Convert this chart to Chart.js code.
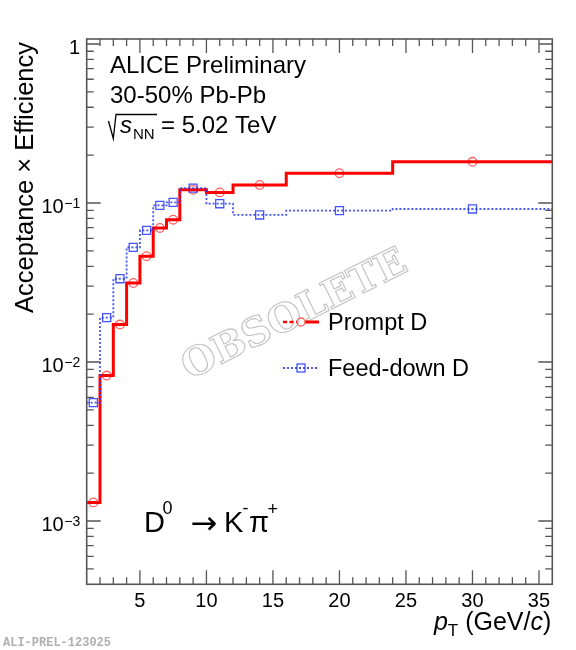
<!DOCTYPE html>
<html><head><meta charset="utf-8">
<script src="https://cdn.jsdelivr.net/npm/chart.js@4"></script>
<style>html,body{margin:0;padding:0;background:#fff}#wrap{width:576px;height:650px;position:relative}</style>
</head><body><div id="wrap"><canvas id="c"></canvas></div>
<script>
// ---- data ----
const binEdges = [1, 2, 3, 4, 5, 6, 7, 8, 10, 12, 16, 24, 36];
const promptEff = [0.00131, 0.00822, 0.0172, 0.0314, 0.0463, 0.0697, 0.0785, 0.121, 0.1166, 0.130, 0.154, 0.1816];
const feeddownEff = [0.00555, 0.0190, 0.0334, 0.0526, 0.0673, 0.0966, 0.1009, 0.124, 0.099, 0.0841, 0.0895, 0.0917];
const xTickValues = [5, 10, 15, 20, 25, 30, 35];
const xTickLabels = ['5', '10', '15', '20', '25', '30', '35'];
const yTickValues = [0.001, 0.01, 0.1, 1];
const yTickBases = ['10', '10', '10', '1'];
const yTickExps = ['\u22123', '\u22122', '\u22121', ''];
const seriesNames = ['Prompt D', 'Feed-down D'];

const X_MIN = 1, X_MAX = 36, Y_MIN = 4e-4, Y_MAX = 1.075;
const RED = '#ff0000';
const RED_MK = 'rgba(255,70,70,0.85)';
const BLUE = 'rgba(35,55,255,0.85)';

function stepPoints(vals) {
  return binEdges.map((e, i) => ({ x: e, y: vals[Math.min(i, vals.length - 1)] }));
}
function centerPoints(vals) {
  return vals.map((v, i) => ({ x: (binEdges[i] + binEdges[i + 1]) / 2, y: v }));
}

const SANS = '"Liberation Sans", Arial, Helvetica, sans-serif';

const rootPlugin = {
  id: 'rootStyle',
  beforeDatasetsDraw(chart) {
    const ctx = chart.ctx;
    ctx.save();
    ctx.translate(295, 316);
    ctx.rotate(-26.5 * Math.PI / 180);
    const fam = '"DejaVu Serif", "Liberation Serif", serif';
    ctx.font = 'bold 40px ' + fam;
    const w40 = ctx.measureText('OBSOLETE').width;
    const fs = 40 * 246 / w40;
    ctx.font = 'bold ' + fs.toFixed(1) + 'px ' + fam;
    ctx.textAlign = 'center';
    ctx.textBaseline = 'middle';
    ctx.strokeStyle = '#c2c2c2';
    ctx.lineWidth = 1.1;
    ctx.strokeText('OBSOLETE', 0, 0);
    ctx.restore();
  },
  afterDatasetsDraw(chart) {
    const ctx = chart.ctx;
    const a = chart.chartArea;
    const xs = chart.scales.x, ys = chart.scales.y;
    ctx.save();
    // frame
    ctx.strokeStyle = '#555';
    ctx.lineWidth = 1.6;
    ctx.strokeRect(a.left, a.top, a.right - a.left, a.bottom - a.top);
    // x ticks
    ctx.lineWidth = 1.3;
    ctx.beginPath();
    for (let v = Math.ceil(X_MIN); v <= X_MAX; v++) {
      if (v === X_MIN || v === X_MAX) continue;
      const px = xs.getPixelForValue(v);
      const len = (v % 5 === 0) ? 14 : 7;
      ctx.moveTo(px, a.bottom); ctx.lineTo(px, a.bottom - len);
      ctx.moveTo(px, a.top); ctx.lineTo(px, a.top + len);
    }
    // y ticks
    for (let d = -4; d <= 0; d++) {
      for (let m = 1; m <= 9; m++) {
        const v = m * Math.pow(10, d);
        if (v <= Y_MIN || v >= Y_MAX) continue;
        const py = ys.getPixelForValue(v);
        const len = (m === 1) ? 14 : 7;
        ctx.moveTo(a.left, py); ctx.lineTo(a.left + len, py);
        ctx.moveTo(a.right, py); ctx.lineTo(a.right - len, py);
      }
    }
    ctx.stroke();

    ctx.fillStyle = '#000';
    // x tick labels
    ctx.font = '20px ' + SANS;
    ctx.textAlign = 'center';
    ctx.textBaseline = 'alphabetic';
    xTickValues.forEach((v, i) => {
      ctx.fillText(xTickLabels[i], xs.getPixelForValue(v), a.bottom + 23);
    });
    // y tick labels
    const labRight = a.left - 6.5;
    yTickValues.forEach((v, i) => {
      const py = ys.getPixelForValue(v);
      ctx.textAlign = 'left';
      ctx.font = '14px ' + SANS;
      const ew = yTickExps[i] ? ctx.measureText(yTickExps[i]).width : 0;
      ctx.font = '20px ' + SANS;
      const bw = ctx.measureText(yTickBases[i]).width;
      const bx = labRight - ew - bw - (ew ? 0.5 : 0);
      ctx.fillText(yTickBases[i], bx, py + 10);
      if (ew) {
        ctx.font = '14px ' + SANS;
        ctx.fillText(yTickExps[i], bx + bw + 0.5, py + 4.7);
      }
    });

    // x title: p_T (GeV/c)
    const parts = [
      { t: 'p', f: 'italic 25px ' + SANS, dy: 0 },
      { t: 'T', f: '17px ' + SANS, dy: 6 },
      { t: ' (GeV/', f: '25px ' + SANS, dy: 0 },
      { t: 'c', f: 'italic 25px ' + SANS, dy: 0 },
      { t: ')', f: '25px ' + SANS, dy: 0 }
    ];
    let tw = 0;
    parts.forEach(p => { ctx.font = p.f; p.w = ctx.measureText(p.t).width; tw += p.w; });
    let cx = a.right - 1 - tw;
    ctx.textAlign = 'left';
    parts.forEach(p => { ctx.font = p.f; ctx.fillText(p.t, cx, 630 + p.dy); cx += p.w; });

    // y title
    ctx.save();
    ctx.translate(33, 42);
    ctx.rotate(-Math.PI / 2);
    ctx.font = '25.5px ' + SANS;
    ctx.textAlign = 'right';
    ctx.fillText('Acceptance \u00d7 Efficiency', 0, 0);
    ctx.restore();

    // header texts
    ctx.font = '24px ' + SANS;
    ctx.textAlign = 'left';
    ctx.fillText('ALICE Preliminary', 110, 73);
    ctx.fillText('30-50% Pb-Pb', 110, 103);
    // sqrt(s_NN)
    ctx.strokeStyle = '#000';
    ctx.lineWidth = 1.3;
    ctx.beginPath();
    ctx.moveTo(108.5, 121); ctx.lineTo(113.3, 138.5); ctx.lineTo(116, 114.5); ctx.lineTo(157, 114.5);
    ctx.stroke();
    ctx.font = 'italic 24px ' + SANS;
    ctx.fillText('s', 120, 133);
    ctx.font = '15px ' + SANS;
    ctx.fillText('NN', 133, 139);
    ctx.font = '24px ' + SANS;
    ctx.fillText('= 5.02 TeV', 161, 133);

    // decay channel
    const big = '29px ' + SANS, sup = '18px ' + SANS;
    ctx.font = big;
    ctx.fillText('D', 144, 532);
    ctx.font = sup;
    ctx.fillText('0', 162.5, 513.5);
    ctx.font = '32px "DejaVu Sans", sans-serif';
    ctx.textAlign = 'center';
    ctx.fillText('\u2192', 204, 534);
    ctx.textAlign = 'left';
    ctx.font = big;
    ctx.fillText('K', 224, 532);
    ctx.font = sup;
    ctx.fillText('-', 242.5, 514);
    ctx.font = big;
    ctx.fillText('\u03c0', 249, 532);
    ctx.font = sup;
    ctx.fillText('+', 267.5, 514.5);

    // legend
    const lx0 = 283, lx1 = 319, lmk = 301;
    ctx.strokeStyle = RED;
    ctx.lineWidth = 2.6;
    ctx.setLineDash([4, 2.5]);
    ctx.beginPath(); ctx.moveTo(lx0, 322); ctx.lineTo(lmk - 4, 322); ctx.stroke();
    ctx.setLineDash([]);
    ctx.lineWidth = 3;
    ctx.beginPath(); ctx.moveTo(lmk + 4, 322); ctx.lineTo(lx1, 322); ctx.stroke();
    ctx.strokeStyle = RED_MK; ctx.lineWidth = 1.3;
    ctx.beginPath(); ctx.arc(lmk, 322, 4, 0, Math.PI * 2); ctx.stroke();
    ctx.strokeStyle = BLUE; ctx.lineWidth = 1.8;
    ctx.setLineDash([2, 2]);
    ctx.beginPath(); ctx.moveTo(lx0, 368); ctx.lineTo(lx1, 368); ctx.stroke();
    ctx.setLineDash([]);
    ctx.lineWidth = 1.3;
    ctx.strokeRect(lmk - 4, 364, 8, 8);
    ctx.fillStyle = '#000';
    ctx.font = '23.5px ' + SANS;
    ctx.fillText(seriesNames[0], 328, 330);
    ctx.fillText(seriesNames[1], 328, 376);

    // id
    ctx.fillStyle = '#b0b0b0';
    ctx.font = 'bold 12px "Liberation Mono", "Courier New", monospace';
    ctx.fillText('ALI-PREL-123025', 3, 646);
    ctx.restore();
  }
};

new Chart(document.getElementById('c'), {
  type: 'line',
  data: {
    datasets: [
      { label: seriesNames[1], data: stepPoints(feeddownEff), stepped: true, borderColor: BLUE, borderWidth: 1.8, borderDash: [2, 2], pointRadius: 0, fill: false },
      { label: seriesNames[0], data: stepPoints(promptEff), stepped: true, borderColor: RED, borderWidth: 3, pointRadius: 0, fill: false },
      { label: seriesNames[1] + ' markers', data: centerPoints(feeddownEff), showLine: false, pointStyle: 'rect', pointRadius: 5.7, borderColor: BLUE, borderWidth: 1.3, backgroundColor: 'rgba(0,0,0,0)' },
      { label: seriesNames[0] + ' markers', data: centerPoints(promptEff), showLine: false, pointStyle: 'circle', pointRadius: 4.3, borderColor: RED_MK, borderWidth: 1.3, backgroundColor: 'rgba(0,0,0,0)' }
    ]
  },
  options: {
    responsive: true,
    maintainAspectRatio: false,
    animation: false,
    layout: { padding: { left: 86.7, top: 39, right: 23.7, bottom: 65.7 } },
    plugins: { legend: { display: false }, tooltip: { enabled: false } },
    scales: {
      x: { type: 'linear', min: X_MIN, max: X_MAX, display: false },
      y: { type: 'logarithmic', min: Y_MIN, max: Y_MAX, display: false }
    }
  },
  plugins: [rootPlugin]
});
</script>
</body></html>
